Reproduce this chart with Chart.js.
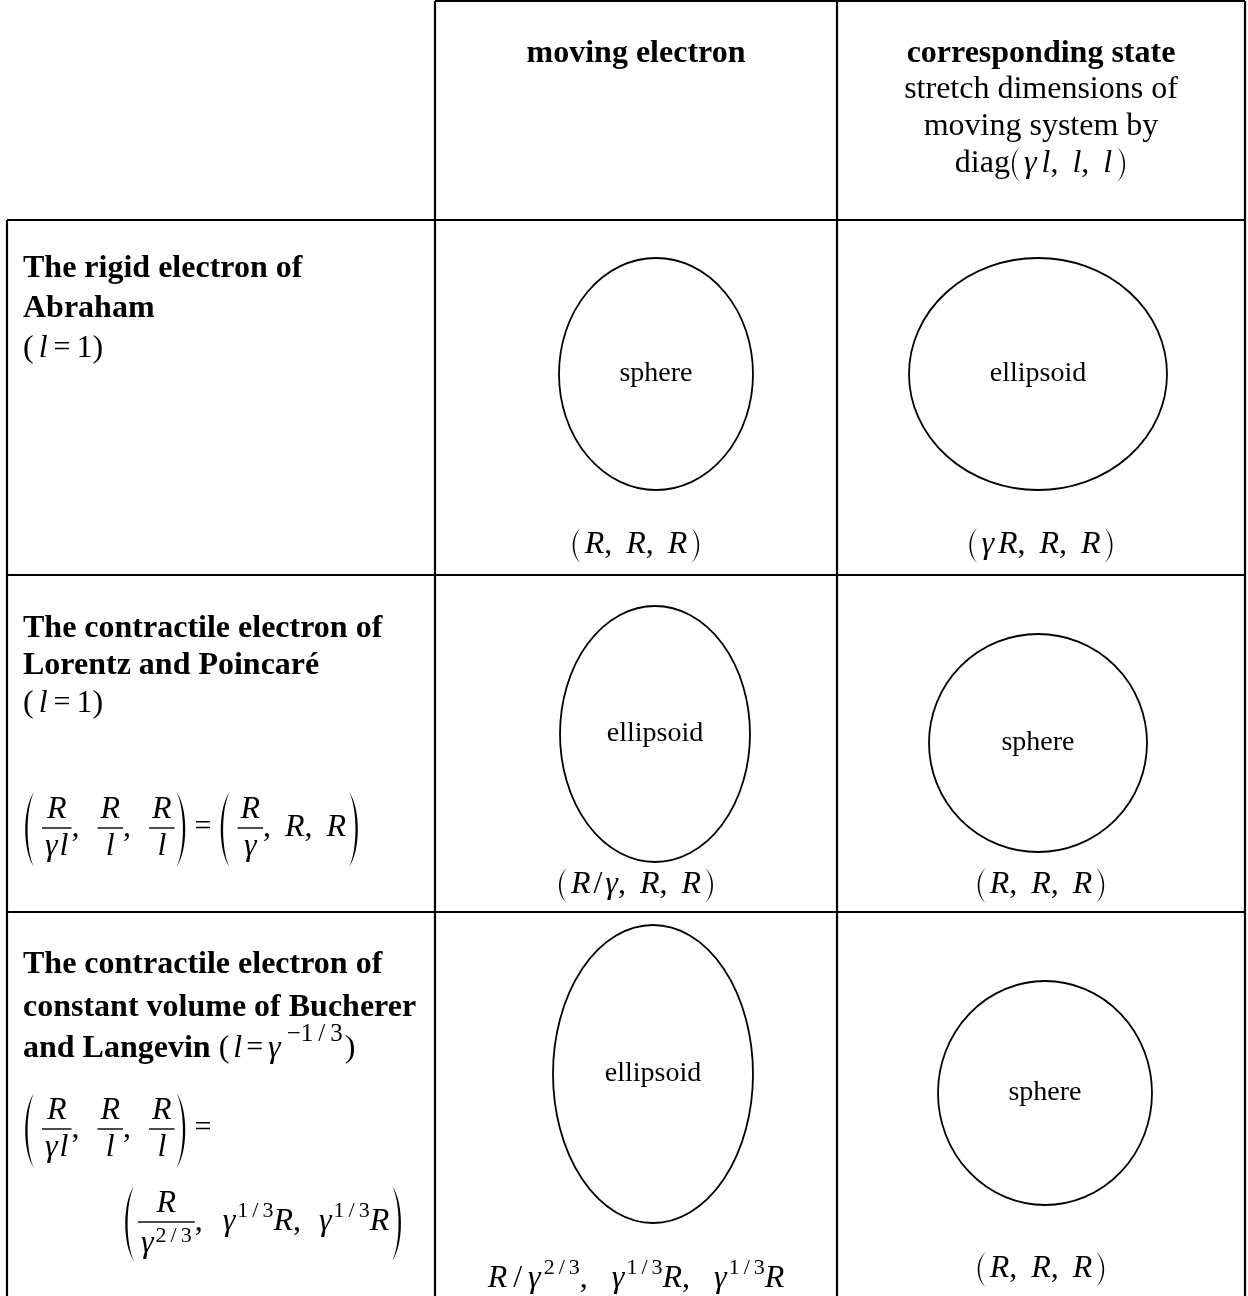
<!DOCTYPE html>
<html>
<head>
<meta charset="utf-8">
<script src="https://cdn.jsdelivr.net/npm/chart.js@4"></script>
<style>
  html, body { margin: 0; padding: 0; background: #fff; }
  #wrap { width: 1248px; height: 1296px; }
</style>
</head>
<body>
<div id="wrap"><canvas id="c" width="1248" height="1296"></canvas></div>
<script>
// table grid (page units, same as pixels)
const colEdges = [7, 435, 837, 1245];
const rowEdges = [1, 220, 575, 912, 1296];

// header + row titles
const colHeads = ['moving electron', 'corresponding state'];
const headNote = ['stretch dimensions of', 'moving system by'];
const rowTitles = [
  ['The rigid electron of', 'Abraham'],
  ['The contractile electron of', 'Lorentz and Poincaré'],
  ['The contractile electron of', 'constant volume of Bucherer']
];

// the shapes: moving electron / corresponding state, row by row
const shapeNames = ['sphere', 'ellipsoid', 'ellipsoid', 'sphere', 'ellipsoid', 'sphere'];
const shapeCx = [656, 1038, 655, 1038, 653, 1045];
const shapeCy = [374, 374, 734, 743, 1074, 1093];
const shapeRx = [97, 129, 95, 109, 100, 107];
const shapeRy = [116, 116, 128, 109, 149, 112];

const SERIF = '"Liberation Serif", "Times New Roman", serif';
function fnt(st, sz) {
  return (st === 'b' ? 'bold ' : st === 'i' ? 'italic ' : '') + sz + 'px ' + SERIF;
}

// tiny math typesetter
const T = (s, st, sz, dy) => ({ k: 't', s, st: st || 'r', sz: sz || 32, dy: dy || 0 });
const I = (s, sz, dy) => T(s, 'i', sz, dy);
const SP = w => ({ k: 'sp', w });
const EQ = () => T('=', 'r', 30, -1);
const P = (ch, top, bot, w) => ({ k: 'p', ch, top, bot, w: w || 13 });
const F = (num, den, db) => ({ k: 'f', num, den, db: db || 27 });
// superscript like "1 / 3"
function SUP(a, b, sz, dy) {
  sz = sz || 22; dy = dy || -13;
  return [T(a, 'r', sz, dy), SP(4), T('/', 'r', sz, dy), SP(4), T(b, 'r', sz, dy)];
}

function paren(ctx, ch, x, top, bot, w) {
  const h = bot - top;
  const th = Math.max(1.6, h * 0.03);
  ctx.beginPath();
  if (ch === '(') {
    const xe = x + w * 0.85, xm = x - w * 0.05;
    ctx.moveTo(xe, top);
    ctx.bezierCurveTo(xm, top + h * 0.22, xm, bot - h * 0.22, xe, bot);
    ctx.bezierCurveTo(xm + th * 1.4, bot - h * 0.22, xm + th * 1.4, top + h * 0.22, xe, top);
  } else {
    const xe = x + w * 0.15, xm = x + w * 1.05;
    ctx.moveTo(xe, top);
    ctx.bezierCurveTo(xm, top + h * 0.22, xm, bot - h * 0.22, xe, bot);
    ctx.bezierCurveTo(xm - th * 1.4, bot - h * 0.22, xm - th * 1.4, top + h * 0.22, xe, top);
  }
  ctx.fill();
}

function run(ctx, items, x, y, draw) {
  let cx = x;
  for (const it of items.flat()) {
    if (it.k === 't') {
      ctx.font = fnt(it.st, it.sz);
      const w = ctx.measureText(it.s).width;
      if (draw) ctx.fillText(it.s, cx, y + it.dy);
      cx += w;
    } else if (it.k === 'sp') {
      cx += it.w;
    } else if (it.k === 'p') {
      if (draw) paren(ctx, it.ch, cx, y + it.top, y + it.bot, it.w);
      cx += it.w;
    } else if (it.k === 'f') {
      const wn = run(ctx, it.num, 0, 0, false);
      const wd = run(ctx, it.den, 0, 0, false);
      const w = Math.max(wn, wd) + 6;
      if (draw) {
        const bar = y - 8;
        run(ctx, it.num, cx + (w - wn) / 2, bar - 10, true);
        run(ctx, it.den, cx + (w - wd) / 2, bar + it.db, true);
        ctx.fillRect(cx, bar - 0.7, w, 1.4);
      }
      cx += w;
    }
  }
  return cx - x;
}
function runCentered(ctx, items, cx, y) {
  const w = run(ctx, items, 0, 0, false);
  run(ctx, items, cx - w / 2, y, true);
}

const bigL = () => P('(', -44, 31);
const bigR = () => P(')', -44, 31);
const smL = () => P('(', -25, 10, 12);
const smR = () => P(')', -25, 10, 12);
const comma = () => T(',');
const fracRgl = () => F([I('R')], [I('γ'), SP(2), I('l')]);
const fracRl = () => F([I('R')], [I('l')]);
const lhs = () => [bigL(), SP(6), fracRgl(), comma(), SP(18), fracRl(), comma(), SP(18), fracRl(), bigR(), SP(7), EQ()];
const RRR = () => [smL(), SP(2), I('R'), comma(), SP(14), I('R'), comma(), SP(14), I('R'), SP(2), smR()];

const tablePlugin = {
  id: 'tablePlugin',
  afterDatasetsDraw(chart) {
    const { ctx, scales: { x, y } } = chart;
    const px = v => x.getPixelForValue(v);
    const py = v => y.getPixelForValue(v);
    ctx.save();
    ctx.fillStyle = '#000';
    ctx.strokeStyle = '#000';

    // grid lines
    ctx.lineWidth = 2.2;
    ctx.beginPath();
    ctx.moveTo(px(colEdges[1]), py(rowEdges[0])); ctx.lineTo(px(colEdges[3]), py(rowEdges[0]));
    for (let r = 1; r < rowEdges.length - 1; r++) {
      ctx.moveTo(px(colEdges[0]), py(rowEdges[r])); ctx.lineTo(px(colEdges[3]), py(rowEdges[r]));
    }
    ctx.moveTo(px(colEdges[0]), py(rowEdges[1])); ctx.lineTo(px(colEdges[0]), py(rowEdges[4]));
    for (let c = 1; c < colEdges.length; c++) {
      ctx.moveTo(px(colEdges[c]), py(rowEdges[0])); ctx.lineTo(px(colEdges[c]), py(rowEdges[4]));
    }
    ctx.stroke();

    // shapes from the dataset
    const pts = chart.data.datasets[0].data;
    ctx.lineWidth = 1.8;
    ctx.textAlign = 'center';
    ctx.textBaseline = 'middle';
    pts.forEach(p => {
      const cx = px(p.x), cy = py(p.y);
      const rx = Math.abs(px(p.x + p.rx) - cx), ry = Math.abs(py(p.y + p.ry) - cy);
      ctx.beginPath();
      ctx.ellipse(cx, cy, rx, ry, 0, 0, Math.PI * 2);
      ctx.stroke();
      ctx.font = fnt('r', 28);
      ctx.fillText(p.name, cx, cy);
    });

    // header
    ctx.textBaseline = 'alphabetic';
    const c2 = (colEdges[1] + colEdges[2]) / 2, c3 = (colEdges[2] + colEdges[3]) / 2;
    ctx.font = fnt('b', 32);
    ctx.fillText(colHeads[0], c2, 62);
    ctx.fillText(colHeads[1], c3, 62);
    ctx.font = fnt('r', 32);
    ctx.fillText(headNote[0], c3, 98);
    ctx.fillText(headNote[1], c3, 135);
    ctx.textAlign = 'left';
    runCentered(ctx, [T('diag'), smL(), SP(2), I('γ'), SP(5), I('l'), comma(), SP(14), I('l'), comma(), SP(14), I('l'), SP(3), smR()], c3, 172);

    // row titles
    const lx = 23;
    const lEq1 = () => [T('('), SP(5), I('l'), SP(6), EQ(), SP(6), T('1)')];
    ctx.font = fnt('b', 32);
    ctx.fillText(rowTitles[0][0], lx, 277);
    ctx.fillText(rowTitles[0][1], lx, 317);
    run(ctx, lEq1(), lx, 357, true);

    ctx.font = fnt('b', 32);
    ctx.fillText(rowTitles[1][0], lx, 637);
    ctx.fillText(rowTitles[1][1], lx, 674);
    run(ctx, lEq1(), lx, 712, true);
    run(ctx, [lhs(), SP(7), bigL(), SP(6), F([I('R')], [I('γ')]), comma(), SP(14), I('R'), comma(), SP(14), I('R'), SP(1), bigR()], lx, 836, true);

    ctx.font = fnt('b', 32);
    ctx.fillText(rowTitles[2][0], lx, 973);
    ctx.fillText(rowTitles[2][1], lx, 1016);
    run(ctx, [T('and Langevin', 'b'), SP(8), T('('), SP(4), I('l'), SP(4), EQ(), SP(5), I('γ'), SP(6),
      T('−1', 'r', 25, -16), SP(5), T('/', 'r', 25, -16), SP(5), T('3', 'r', 25, -16), SP(2), T(')')], lx, 1057, true);
    run(ctx, lhs(), lx, 1137, true);
    run(ctx, [bigL(), SP(2), F([I('R')], [I('γ'), SP(2), SUP('2', '3', 22, -10)], 30), comma(), SP(20), I('γ'), SP(2), SUP('1', '3'), I('R'),
      comma(), SP(18), I('γ'), SP(2), SUP('1', '3'), I('R'), SP(1), bigR()], 123, 1230, true);

    // dimension captions under the shapes
    runCentered(ctx, RRR(), c2, 553);
    runCentered(ctx, [smL(), SP(2), I('γ'), SP(4), I('R'), comma(), SP(14), I('R'), comma(), SP(14), I('R'), SP(2), smR()], c3, 553);
    runCentered(ctx, [smL(), SP(2), I('R'), SP(3), T('/'), SP(3), I('γ'), comma(), SP(14), I('R'), comma(), SP(14), I('R'), SP(2), smR()], c2, 893);
    runCentered(ctx, RRR(), c3, 893);
    runCentered(ctx, [I('R'), SP(6), T('/'), SP(6), I('γ'), SP(3), SUP('2', '3'), comma(), SP(24), I('γ'), SP(2), SUP('1', '3'), I('R'),
      comma(), SP(24), I('γ'), SP(2), SUP('1', '3'), I('R')], c2, 1287);
    runCentered(ctx, RRR(), c3, 1277);

    ctx.restore();
  }
};

const shapePoints = shapeNames.map((name, i) => ({
  x: shapeCx[i], y: shapeCy[i], rx: shapeRx[i], ry: shapeRy[i], name
}));

new Chart(document.getElementById('c'), {
  type: 'scatter',
  data: {
    datasets: [{ data: shapePoints, pointRadius: 0, pointHoverRadius: 0 }]
  },
  options: {
    responsive: false,
    animation: false,
    devicePixelRatio: 1,
    layout: { padding: 0 },
    plugins: { legend: { display: false }, tooltip: { enabled: false } },
    events: [],
    scales: {
      x: { type: 'linear', min: 0, max: 1248, display: false },
      y: { type: 'linear', min: 0, max: 1296, reverse: true, display: false }
    }
  },
  plugins: [tablePlugin]
});
</script>
</body>
</html>
